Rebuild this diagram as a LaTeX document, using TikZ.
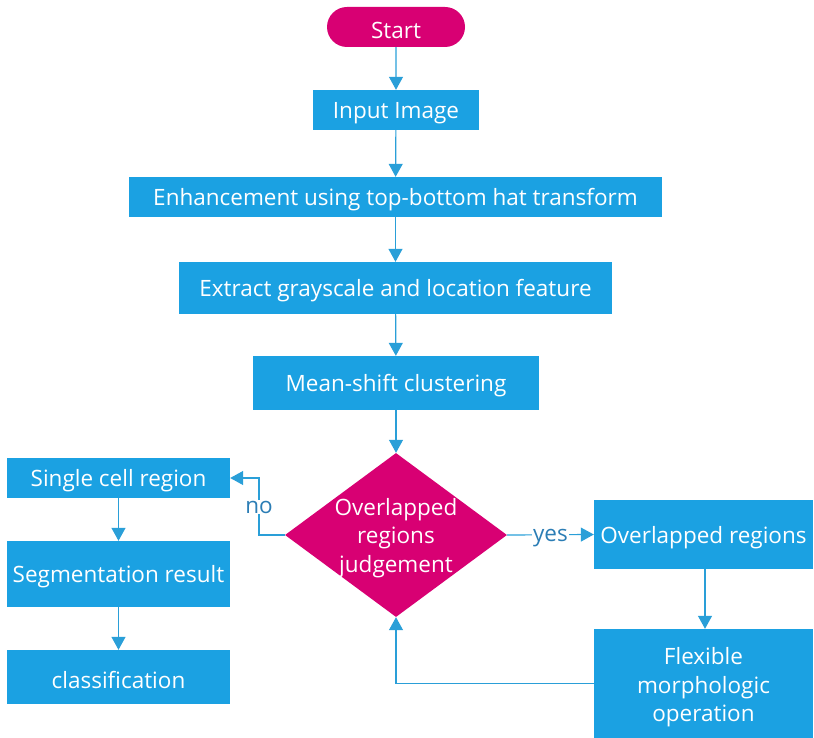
\documentclass[tikz,border=0pt]{standalone}
\usepackage{fontspec}
\setmainfont{Open Sans}
\usetikzlibrary{shapes.geometric,shapes.misc,arrows.meta}
\definecolor{boxblue}{HTML}{1BA1E2}
\definecolor{linkblue}{HTML}{2A9FD8}
\definecolor{magentared}{HTML}{D80073}
\definecolor{labelblue}{HTML}{2B7DB5}
\tikzset{
  % a tall invisible strut on the first line lowers the text slightly
  lowtext/.style={execute at begin node={\rule{0pt}{23pt}}},
  procbox/.style={rectangle, fill=boxblue, text=white, inner sep=0pt, align=center,
    font=\fontsize{22.5}{28.5}\selectfont, lowtext},
  terminal/.style={rounded rectangle, fill=magentared, text=white, inner sep=0pt,
    font=\fontsize{22.5}{28}\selectfont, lowtext},
  decision/.style={diamond, fill=magentared, inner sep=0pt},
  inlabel/.style={text=white, align=center, inner sep=0pt, font=\fontsize{22.5}{28.5}\selectfont},
  link/.style={draw=linkblue, line width=1.2pt, -{Triangle[length=13pt,width=14pt]}},
  tag/.style={fill=white, text=labelblue, inner sep=1pt, font=\fontsize{22.5}{28}\selectfont}
}
\begin{document}
\begin{tikzpicture}[x=1pt,y=-1pt]
  \useasboundingbox (0,0) rectangle (814,738);
  % main column
  \node[terminal, minimum width=138pt, minimum height=40pt] (start) at (396,27) {Start};
  \node[procbox, minimum width=166pt, minimum height=40pt] (input) at (396,110) {Input Image};
  \node[procbox, minimum width=533pt, minimum height=40pt] (enh) at (395.5,197) {Enhancement using top-bottom hat transform};
  \node[procbox, minimum width=433pt, minimum height=52pt] (feat) at (395.5,288) {Extract grayscale and location feature};
  \node[procbox, minimum width=286pt, minimum height=54pt] (ms) at (396,383) {Mean-shift clustering};
  \node[decision, minimum width=222pt, minimum height=164pt] (judge) at (396,535) {};
  \node[inlabel] (judgetext) at (396,538) {Overlapped\\regions\\judgement};
  % left branch
  \node[procbox, minimum width=223pt, minimum height=40pt] (single) at (118.5,478) {Single cell region};
  \node[procbox, minimum width=223pt, minimum height=66pt] (seg) at (118.5,574) {Segmentation result};
  \node[procbox, minimum width=223pt, minimum height=54pt] (cls) at (118.5,677) {classification};
  % right branch
  \node[procbox, minimum width=219pt, minimum height=69pt] (ovl) at (703.5,534.5) {Overlapped regions};
  \node[procbox, minimum width=219pt, minimum height=109pt] (flex) at (703.5,683.5) {};
  \node[inlabel] (flextext) at (703.5,687.5) {Flexible\\morphologic\\operation};
  % connectors
  \draw[link] (start) -- (input);
  \draw[link] (input) -- (enh);
  \draw[link] (enh) -- (feat);
  \draw[link] (feat) -- (ms);
  \draw[link] (ms) -- (judge);
  \coordinate (nobend) at (259,535);
  \draw[link] (judge.west) -- (nobend) |- (single.east);
  \node[tag] (notag) at (259,507) {no};
  \draw[link] (judge.east) -- node[tag, yshift=-3pt] (yestag) {yes} (ovl.west);
  \draw[link] (ovl.south -| 705,0) -- (flex.north -| 705,0);
  \draw[link] (flex.west) -| (judge.south);
  \draw[link] (single) -- (seg);
  \draw[link] (seg) -- (cls);
\end{tikzpicture}
\end{document}
